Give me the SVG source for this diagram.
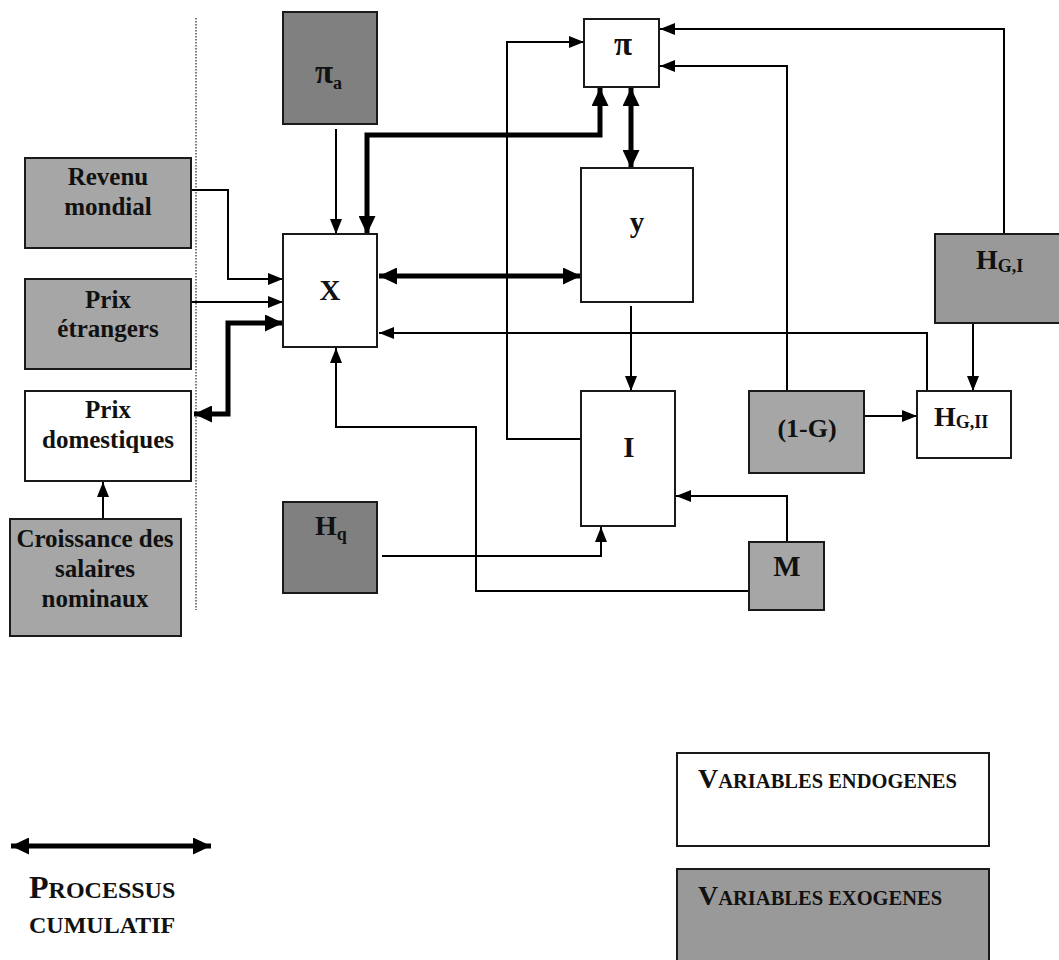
<svg xmlns="http://www.w3.org/2000/svg" width="1059" height="960" viewBox="0 0 1059 960">
<style>
.box{stroke:#1a1a1a;stroke-width:2}
.w{fill:#fff}
.g{fill:#a6a6a6}
.g2{fill:#999999}
.d{fill:#808080}
text{font-family:"Liberation Serif","Times New Roman",serif;font-weight:bold;fill:#111}
.t{font-size:25px;text-anchor:middle}
.big{font-size:29px}
.h{font-size:28px}
.pi{font-size:33px}
.sub{font-size:18px}
.thin{fill:none;stroke:#000;stroke-width:2;marker-end:url(#a)}
.thick{fill:none;stroke:#000;stroke-width:5;marker-end:url(#b);marker-start:url(#b)}
</style>
<defs>
<marker id="a" markerUnits="userSpaceOnUse" markerWidth="15" markerHeight="12" refX="15" refY="6" orient="auto"><path d="M0,0L15,6L0,12z" fill="#000"/></marker>
<marker id="b" markerUnits="userSpaceOnUse" markerWidth="18" markerHeight="17" refX="18" refY="8.5" orient="auto-start-reverse"><path d="M0,0L18,8.5L0,17z" fill="#000"/></marker>
</defs>
<line x1="196" y1="18" x2="196" y2="610" stroke="#222" stroke-width="1.2" stroke-dasharray="1.5,1.5"/>
<g id="connectors">
<path class="thin" d="M191,190H228V279H283"/>
<path class="thin" d="M191,302H283"/>
<path class="thick" d="M194,414H228V323H283"/>
<path class="thin" d="M336,129V234"/>
<path class="thick" d="M367,234V135H600V88"/>
<path class="thick" d="M379,276H581"/>
<path class="thick" d="M631,88V168"/>
<path class="thin" d="M585,439H507V42H584"/>
<path class="thin" d="M1004,234V29H660"/>
<path class="thin" d="M787,391V66H660"/>
<path class="thin" d="M973,323V391"/>
<path class="thin" d="M864,416H917"/>
<path class="thin" d="M927,391V333H379"/>
<path class="thin" d="M631,306V391"/>
<path class="thin" d="M787,542V496H676"/>
<path class="thin" d="M749,591H476V427H336V348"/>
<path class="thin" d="M382,556H601V527"/>
<path class="thin" d="M103,519V482"/>
</g>
<g id="pi_a"><rect class="box d" x="283" y="12" width="94" height="112"/><text x="315" y="83"><tspan class="pi">π</tspan><tspan class="sub" dy="6">a</tspan></text></g>
<g id="revenu"><rect class="box g" x="25" y="158" width="166" height="90"/><text class="t" x="108" y="185">Revenu</text><text class="t" x="108" y="215">mondial</text></g>
<g id="prix_etr"><rect class="box g" x="25" y="279" width="166" height="90"/><text class="t" x="108" y="308">Prix</text><text class="t" x="108" y="337">étrangers</text></g>
<g id="prix_dom"><rect class="box w" x="25" y="391" width="166" height="90"/><text class="t" x="108" y="418">Prix</text><text class="t" x="108" y="448">domestiques</text></g>
<g id="croissance"><rect class="box g" x="10" y="519" width="171" height="117"/><text class="t" x="95" y="547">Croissance des</text><text class="t" x="95" y="577">salaires</text><text class="t" x="95" y="607">nominaux</text></g>
<g id="X"><rect class="box w" x="283" y="234" width="94" height="113"/><text class="big" x="330" y="300" text-anchor="middle">X</text></g>
<g id="pi"><rect class="box w" x="584" y="19" width="75" height="68"/><text class="pi" x="623" y="55" text-anchor="middle">π</text></g>
<g id="y"><rect class="box w" x="581" y="168" width="112" height="134"/><text class="big" x="637" y="232" text-anchor="middle">y</text></g>
<g id="I"><rect class="box w" x="581" y="391" width="94" height="135"/><text class="big" x="629" y="457" text-anchor="middle">I</text></g>
<g id="HGI"><rect class="box g2" x="935" y="234" width="130" height="89"/><text class="h" x="976" y="269">H<tspan class="sub" dy="3">G,I</tspan></text></g>
<g id="HGII"><rect class="box w" x="917" y="391" width="94" height="67"/><text class="h" x="934" y="426">H<tspan class="sub" dy="2">G,II</tspan></text></g>
<g id="oneG"><rect class="box g" x="749" y="391" width="115" height="82"/><text x="807" y="437" font-size="26" text-anchor="middle">(1-G)</text></g>
<g id="M"><rect class="box g" x="749" y="542" width="75" height="68"/><text class="big" x="787" y="576" text-anchor="middle">M</text></g>
<g id="Hq"><rect class="box d" x="283" y="502" width="94" height="91"/><text class="h" x="315" y="535">H<tspan class="sub" dy="5">q</tspan></text></g>
<g id="legend_arrow"><path class="thick" d="M11,846H211"/><text x="29" y="898"><tspan font-size="32">P</tspan><tspan font-size="24">ROCESSUS</tspan></text><text x="29" y="933" font-size="24">CUMULATIF</text></g>
<g id="legend_endo"><rect class="box w" x="677" y="753" width="312" height="93"/><text x="698" y="788"><tspan font-size="28">V</tspan><tspan font-size="20.5">ARIABLES ENDOGENES</tspan></text></g>
<g id="legend_exo"><rect class="box g2" x="677" y="869" width="312" height="100"/><text x="698" y="905"><tspan font-size="28">V</tspan><tspan font-size="20.5">ARIABLES EXOGENES</tspan></text></g>
</svg>
